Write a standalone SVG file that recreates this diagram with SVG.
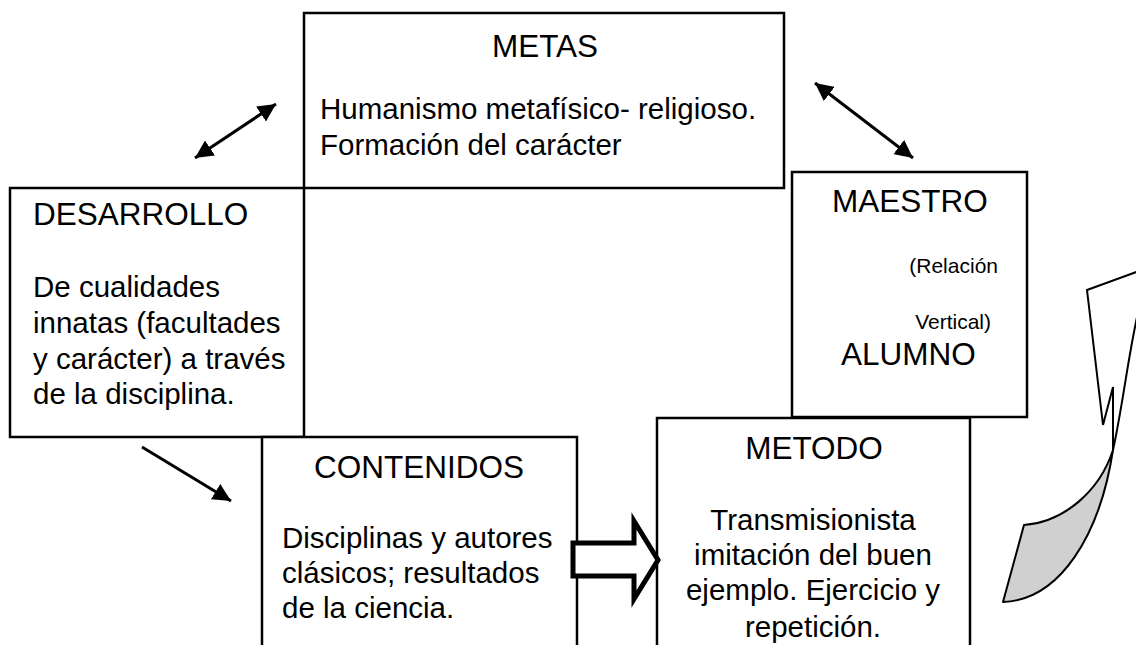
<svg xmlns="http://www.w3.org/2000/svg" width="1136" height="645" viewBox="0 0 1136 645">
<defs>
<style>
.box{fill:#fff;stroke:#000;stroke-width:2.5}
.h{font-family:"Liberation Sans",Arial,sans-serif;font-size:31.5px;fill:#000}
.t{font-family:"Liberation Sans",Arial,sans-serif;font-size:29.5px;fill:#000}
.s{font-family:"Liberation Sans",Arial,sans-serif;font-size:21px;fill:#000;text-anchor:end}
.c{text-anchor:middle}
.ln{stroke:#000;stroke-width:3;fill:none}
</style>
<marker id="ah" markerWidth="20" markerHeight="18" refX="18" refY="9" orient="auto-start-reverse" markerUnits="userSpaceOnUse"><path d="M0,0 L18,9 L0,18 z" fill="#000"/></marker>
</defs>
<rect width="1136" height="645" fill="#fff"/>
<g id="metas">
<rect class="box" x="304" y="13" width="480" height="175"/>
<text class="h c" x="545" y="57">METAS</text>
<text class="t" x="320" y="119">Humanismo metafísico- religioso.</text>
<text class="t" x="320" y="155">Formación del carácter</text>
</g>
<g id="desarrollo">
<rect class="box" x="10" y="188" width="294" height="249"/>
<text class="h" x="33" y="225">DESARROLLO</text>
<text class="t" x="33" y="297">De cualidades</text>
<text class="t" x="33" y="333">innatas (facultades</text>
<text class="t" x="33" y="369">y carácter) a través</text>
<text class="t" x="33" y="404">de la disciplina.</text>
</g>
<g id="maestro">
<rect class="box" x="792" y="172" width="235" height="245"/>
<text class="h" x="832" y="212">MAESTRO</text>
<text class="s" x="998" y="273">(Relación</text>
<text class="s" x="991" y="329">Vertical)</text>
<text class="h" x="841" y="365">ALUMNO</text>
</g>
<g id="contenidos">
<rect class="box" x="262" y="437" width="315" height="220"/>
<text class="h c" x="419" y="478">CONTENIDOS</text>
<text class="t" x="282" y="548">Disciplinas y autores</text>
<text class="t" x="282" y="583">clásicos; resultados</text>
<text class="t" x="282" y="618">de la ciencia.</text>
</g>
<g id="metodo">
<rect class="box" x="657" y="418" width="313" height="240"/>
<text class="h c" x="814" y="459">METODO</text>
<text class="t c" x="813" y="530">Transmisionista</text>
<text class="t c" x="813" y="565">imitación del buen</text>
<text class="t c" x="813" y="600">ejemplo. Ejercicio y</text>
<text class="t c" x="813" y="637">repetición.</text>
</g>
<g id="connectors">
<line class="ln" x1="195" y1="158" x2="276" y2="104" marker-start="url(#ah)" marker-end="url(#ah)"/>
<line class="ln" x1="815" y1="83" x2="913" y2="158" marker-start="url(#ah)" marker-end="url(#ah)"/>
<line class="ln" x1="142" y1="447" x2="231" y2="501" marker-end="url(#ah)"/>
<path d="M573,543 L634,543 L634,521 L658,560 L634,599 L634,576 L573,576 Z" fill="#fff" stroke="#000" stroke-width="5" stroke-linejoin="miter"/>
<path d="M1087,290 L1142,270 L1142,296 C1130,340 1124,400 1113,450 L1113,387 L1103,425 Z" fill="#fff" stroke="#000" stroke-width="2"/>
<path d="M1024,525 C1065,522 1100,490 1113,450 C1100,535 1060,600 1003,602 Z" fill="#d0d0d0" stroke="#000" stroke-width="2" stroke-linejoin="round"/>
</g>
</svg>
